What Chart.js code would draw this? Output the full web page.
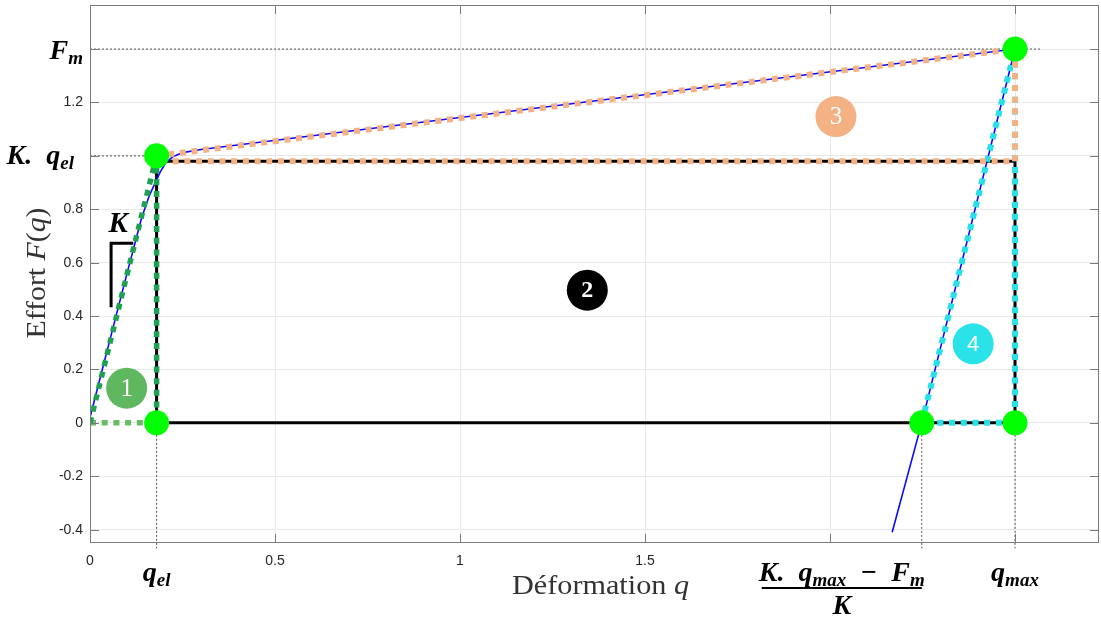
<!DOCTYPE html>
<html>
<head>
<meta charset="utf-8">
<script src="https://cdn.jsdelivr.net/npm/chart.js@4.4.1/dist/chart.umd.min.js"></script>
<style>
  html, body { margin: 0; background: #fff; }
  #wrap { width: 1101px; height: 619px; }
</style>
</head>
<body>
<div id="wrap"><canvas id="chart"></canvas></div>
<script>
// valeurs caractéristiques
const qEl = 0.18, qRes = 2.248, qMax = 2.5;
const Fel = 1.0, Fplat = 0.98, Fm = 1.4;

// courbe bleue F(q)
const curveX = [0, 0.05, 0.10, 0.14, 0.16, 0.175, 0.19, 0.205, 0.225, 0.25, 0.30, 2.5, 2.248, 2.168];
const curveY = [0.02, 0.29, 0.56, 0.77, 0.85, 0.895, 0.94, 0.975, 0.998, 1.012, 1.024, 1.4, 0, -0.41];

// zone 1 (verte)
const z1SlopeX = [0, qEl], z1SlopeY = [0, Fel];
const z1VertX = [qEl, qEl], z1VertY = [Fel, 0];
const z1BaseX = [0, qEl], z1BaseY = [0, 0];
// zone 2 (noire)
const z2X = [qEl, qEl, qMax, qMax, qEl], z2Y = [0, Fplat, Fplat, 0, 0];
// zone 3 (orange)
const z3X = [qEl, qMax, qMax, qEl], z3Y = [Fel, Fm, Fplat, Fplat];
// zone 4 (cyan)
const z4X = [qRes, qMax, qMax, qRes], z4Y = [0, Fm, 0, 0];
// points remarquables
const dotX = [qEl, qEl, qRes, qMax, qMax], dotY = [Fel, 0, 0, 0, Fm];

// graduations
const xTicks = [0, 0.5, 1, 1.5, 2, 2.5];
const xTickLabels = ['0', '0.5', '1', '1.5', '', ''];
const yTicks = [-0.4, -0.2, 0, 0.2, 0.4, 0.6, 0.8, 1.0, 1.2, 1.4];
const yTickLabels = ['-0.4', '-0.2', '0', '0.2', '0.4', '0.6', '0.8', '', '1.2', ''];

// pastilles numérotées
const badgeText = ['1', '2', '3', '4'];
const badgeX = [0.099, 1.344, 2.016, 2.387];
const badgeY = [0.13, 0.497, 1.147, 0.296];
const badgeColor = ['#5fb760', '#000000', '#f4b183', '#2ae3e8'];
const badgeFont = ['serif', 'serifBold', 'serif', 'sans'];

const pts = (xs, ys) => xs.map((x, i) => ({ x: x, y: ys[i] }));

function line(xs, ys, color, width, dash, extra) {
    return Object.assign({
        data: pts(xs, ys),
        borderColor: color,
        backgroundColor: color,
        borderWidth: width,
        borderDash: dash || [],
        borderCapStyle: 'butt',
        borderJoinStyle: 'bevel',
        pointRadius: 0,
        showLine: true,
        fill: false,
        tension: 0
    }, extra || {});
}

const orange = '#f4b183', cyan = '#27e1e6', green = '#1ea152', lightGreen = '#66bd66';
const dots = [6, 5.7];

function mathText(ctx, parts, x, y, align) {
    let w = 0;
    parts.forEach(p => {
        ctx.font = 'italic bold ' + p[1] + 'px "Liberation Serif"';
        w += ctx.measureText(p[0]).width;
    });
    let cx = align === 'right' ? x - w : (align === 'center' ? x - w / 2 : x);
    ctx.textAlign = 'left';
    ctx.textBaseline = 'alphabetic';
    parts.forEach(p => {
        ctx.font = 'italic bold ' + p[1] + 'px "Liberation Serif"';
        ctx.fillText(p[0], cx, y + (p[2] || 0));
        cx += ctx.measureText(p[0]).width;
    });
    return w;
}

// texte mixte (droit / italique) centré, étiré à une largeur donnée
function titleText(ctx, parts, size, targetW) {
    let w = 0;
    parts.forEach(p => { ctx.font = p[1] + size + 'px "Liberation Serif"'; w += ctx.measureText(p[0]).width; });
    ctx.scale(targetW / w, 1);
    let px = -w / 2;
    parts.forEach(p => {
        ctx.font = p[1] + size + 'px "Liberation Serif"';
        ctx.fillText(p[0], px, 0);
        px += ctx.measureText(p[0]).width;
    });
}

const decorPlugin = {
    id: 'decor',
    afterDatasetsDraw(chart) {
        const ctx = chart.ctx;
        const xs = chart.scales.x, ys = chart.scales.y;
        const a = chart.chartArea;
        ctx.save();

        // cadre + graduations intérieures
        ctx.strokeStyle = '#7a7a7a';
        ctx.lineWidth = 1;
        ctx.strokeRect(a.left + 0.5, a.top + 0.5, a.right - a.left - 1, a.bottom - a.top - 1);
        ctx.beginPath();
        xTicks.forEach(v => {
            const px = Math.round(xs.getPixelForValue(v)) + 0.5;
            ctx.moveTo(px, a.bottom); ctx.lineTo(px, a.bottom - 9);
            ctx.moveTo(px, a.top); ctx.lineTo(px, a.top + 9);
        });
        yTicks.forEach(v => {
            const py = Math.round(ys.getPixelForValue(v)) + 0.5;
            ctx.moveTo(a.left, py); ctx.lineTo(a.left + 9, py);
            ctx.moveTo(a.right, py); ctx.lineTo(a.right - 9, py);
        });
        ctx.stroke();

        // pastilles
        badgeText.forEach((t, i) => {
            const px = xs.getPixelForValue(badgeX[i]), py = ys.getPixelForValue(badgeY[i]);
            ctx.fillStyle = badgeColor[i];
            ctx.beginPath();
            ctx.arc(px, py, 20.5, 0, Math.PI * 2);
            ctx.fill();
            ctx.fillStyle = '#fff';
            ctx.textAlign = 'center';
            ctx.textBaseline = 'middle';
            if (badgeFont[i] === 'sans') ctx.font = '22px "Liberation Sans"';
            else if (badgeFont[i] === 'serifBold') ctx.font = 'bold 24px "Liberation Serif"';
            else ctx.font = '25px "Liberation Serif"';
            ctx.fillText(t, px, py + 1);
        });

        // pente K
        ctx.strokeStyle = '#000';
        ctx.lineWidth = 3;
        ctx.beginPath();
        ctx.moveTo(xs.getPixelForValue(0.057), ys.getPixelForValue(0.433));
        ctx.lineTo(xs.getPixelForValue(0.057), ys.getPixelForValue(0.673));
        ctx.lineTo(xs.getPixelForValue(0.117), ys.getPixelForValue(0.673));
        ctx.stroke();
        ctx.fillStyle = '#000';
        mathText(ctx, [['K', 29]], xs.getPixelForValue(0.076), ys.getPixelForValue(0.713), 'center');

        // étiquettes spéciales des axes
        ctx.fillStyle = '#000';
        mathText(ctx, [['F', 28], ['m', 19, 5]], a.left - 7, ys.getPixelForValue(Fm) + 10, 'right');
        mathText(ctx, [['K', 28], ['.  ', 28], ['q', 28], ['el', 19, 5]], a.left - 16, ys.getPixelForValue(Fel) + 8, 'right');
        const bl = a.bottom + 38;
        mathText(ctx, [['q', 28], ['el', 19, 5]], xs.getPixelForValue(qEl), bl, 'center');
        mathText(ctx, [['q', 28], ['max', 19, 5]], xs.getPixelForValue(qMax), bl, 'center');
        const fx = xs.getPixelForValue(qRes) - 80;
        mathText(ctx, [['K', 28], ['.  ', 28], ['q', 28], ['max', 19, 5], ['  \u2212  ', 28], ['F', 28], ['m', 19, 5]], fx, bl, 'center');
        ctx.fillRect(fx - 80, bl + 6, 160, 2);
        mathText(ctx, [['K', 28]], fx, bl + 33, 'center');

        // titres des axes
        ctx.fillStyle = '#333';
        ctx.textBaseline = 'alphabetic';
        ctx.textAlign = 'left';
        ctx.save();
        ctx.translate((a.left + a.right) / 2 + 6, a.bottom + 51);
        titleText(ctx, [['D\u00e9formation ', ''], ['q', 'italic ']], 27, 177);
        ctx.restore();

        ctx.save();
        ctx.translate(45, (a.top + a.bottom) / 2 - 1);
        ctx.rotate(-Math.PI / 2);
        titleText(ctx, [['Effort ', ''], ['F', 'italic '], ['(', ''], ['q', 'italic '], [')', '']], 28, 131);
        ctx.restore();
        ctx.restore();
    }
};

new Chart(document.getElementById('chart'), {
    type: 'scatter',
    data: {
        datasets: [
            { data: pts(dotX, dotY), pointRadius: 12.5, pointHoverRadius: 12.5, pointBackgroundColor: '#00ff00', pointBorderWidth: 0, showLine: false },
            line(z1SlopeX, z1SlopeY, green, 5.5, dots),
            line(z1VertX, z1VertY, green, 5.5, dots),
            line(z1BaseX, z1BaseY, lightGreen, 5.5, dots),
            line(z3X, z3Y, orange, 6, dots),
            line(z4X, z4Y, cyan, 6, dots),
            line(curveX, curveY, '#0a0aff', 1.6, []),
            line(z2X, z2Y, '#000000', 3, []),
            line([0, 2.57], [Fm, Fm], '#555', 1, [2, 2]),
            line([0, qEl], [Fel, Fel], '#555', 1, [2, 2]),
            line([qEl, qEl], [0, -0.47], '#555', 1, [2, 2], { clip: false }),
            line([qRes, qRes], [0, -0.47], '#555', 1, [2, 2], { clip: false }),
            line([qMax, qMax], [0, -0.47], '#555', 1, [2, 2], { clip: false })
        ]
    },
    options: {
        responsive: true,
        maintainAspectRatio: false,
        animation: false,
        layout: { autoPadding: false, padding: { left: 0, right: 2, top: 5, bottom: 0 } },
        plugins: { legend: { display: false }, tooltip: { enabled: false } },
        scales: {
            x: {
                type: 'linear',
                min: 0,
                max: 2.727,
                afterBuildTicks: s => { s.ticks = xTicks.map(v => ({ value: v })); },
                afterFit: s => { s.height = 76; s.paddingLeft = 0; s.paddingRight = 0; },
                grid: { color: '#e8e8e8', drawTicks: false },
                border: { display: false },
                ticks: {
                    padding: 10,
                    color: '#262626',
                    font: { family: 'Liberation Sans', size: 14 },
                    maxRotation: 0,
                    callback: (v, i) => xTickLabels[i]
                }
            },
            y: {
                type: 'linear',
                min: -0.45,
                max: 1.565,
                afterBuildTicks: s => { s.ticks = yTicks.map(v => ({ value: v })); },
                afterFit: s => { s.width = 90; s.paddingTop = 0; s.paddingBottom = 0; },
                grid: { color: '#e8e8e8', drawTicks: false },
                border: { display: false },
                ticks: {
                    padding: 7,
                    color: '#262626',
                    font: { family: 'Liberation Sans', size: 14 },
                    callback: (v, i) => yTickLabels[i]
                }
            }
        }
    },
    plugins: [decorPlugin]
});
</script>
</body>
</html>
